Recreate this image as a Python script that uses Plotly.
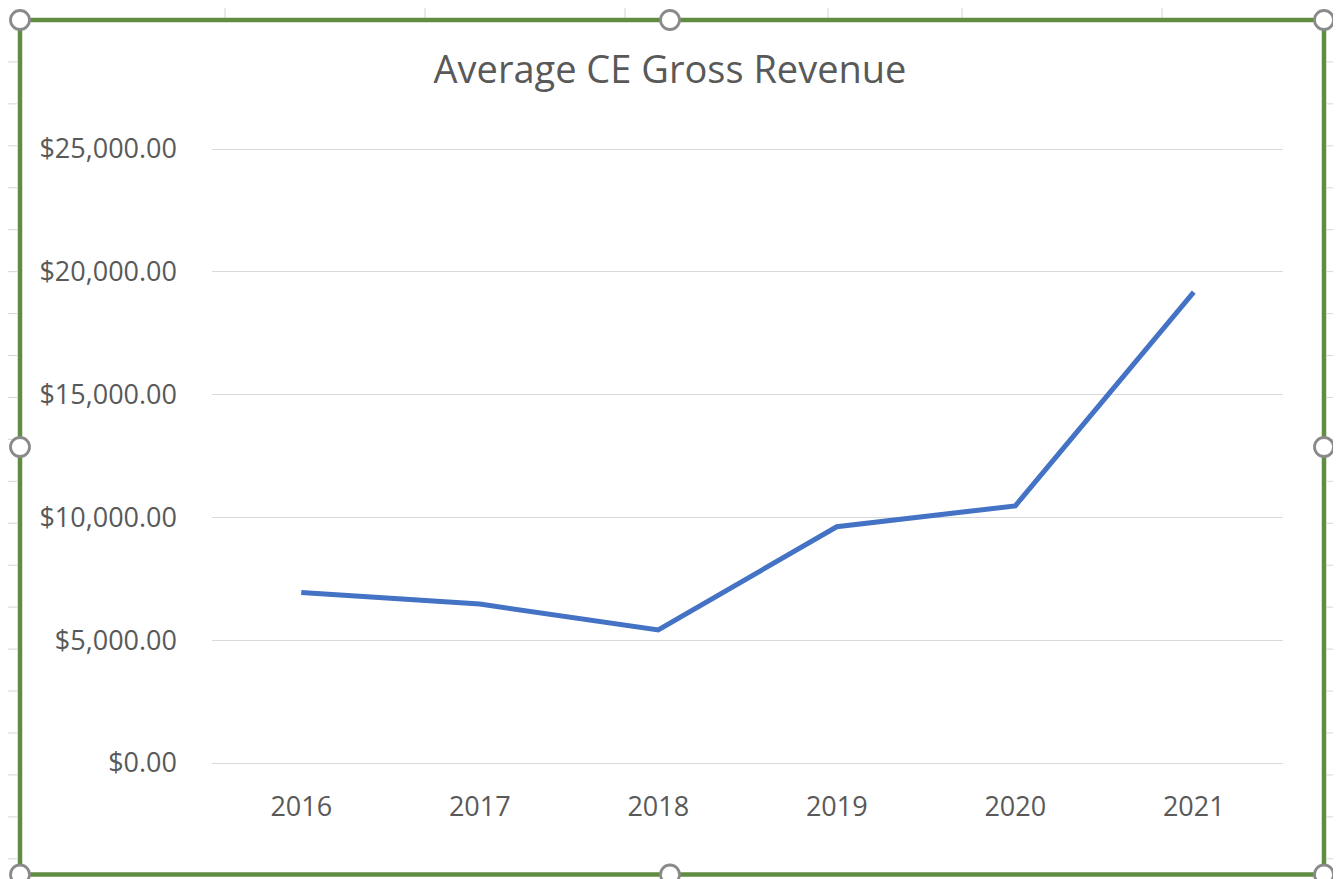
import plotly.graph_objects as go

# ---- data ----
years = ["2016", "2017", "2018", "2019", "2020", "2021"]
revenue = [6940, 6470, 5420, 9620, 10470, 19170]
y_ticks = [0, 5000, 10000, 15000, 20000, 25000]
y_max = 25000
title_text = "Average CE Gross Revenue"

# page has an 8px body margin; size figure so screen coordinates line up
OFF = 8
SW, SH = 1341, 879
W, H = SW - OFF, SH - OFF
PLOT_L, PLOT_R, PLOT_T, PLOT_B = 212, 1283, 149, 763  # screen px of value range
EPS_PX = 2  # extend plot a little so end gridlines are drawn
L = PLOT_L - OFF
T = PLOT_T - OFF - EPS_PX
R = SW - PLOT_R
B = SH - PLOT_B - EPS_PX
PW, PH = W - L - R, H - T - B
eps = EPS_PX * y_max / (PLOT_B - PLOT_T)


def px(xs):
    return (xs - OFF - L) / PW


def py(ys):
    return (H - B - (ys - OFF)) / PH


fig = go.Figure()
fig.add_trace(go.Scatter(
    x=years, y=revenue, mode="lines",
    line=dict(color="#4472c4", width=5),
    hoverinfo="skip", showlegend=False,
))

shapes = []
# spreadsheet cell lines visible outside the chart
for xv in [225, 425, 625, 828, 962, 1162]:
    shapes.append(dict(type="line", xref="paper", yref="paper",
                       x0=px(xv), x1=px(xv), y0=py(OFF), y1=py(18),
                       line=dict(color="#d6d6d6", width=1), layer="below"))
k = 1
while True:
    yv = 20 + 41.94 * k
    if yv > SH:
        break
    for (a, b) in [(OFF, 17), (1327, SW)]:
        shapes.append(dict(type="line", xref="paper", yref="paper",
                           x0=px(a), x1=px(b), y0=py(yv), y1=py(yv),
                           line=dict(color="#d6d6d6", width=1), layer="below"))
    k += 1

# chart border
shapes.append(dict(type="rect", xref="paper", yref="paper",
                   x0=px(20), x1=px(1324), y0=py(20), y1=py(874.5),
                   line=dict(color="#618d42", width=4.5), fillcolor="rgba(0,0,0,0)",
                   layer="above"))
# selection handles
rr = 9.5
for (cx, cy) in [(20, 20), (670, 20), (1324, 20), (20, 447), (1324, 447),
                 (20, 874.5), (670, 874.5), (1324, 874.5)]:
    shapes.append(dict(type="circle", xref="paper", yref="paper",
                       x0=px(cx - rr), x1=px(cx + rr), y0=py(cy - rr), y1=py(cy + rr),
                       line=dict(color="#8a8a8a", width=2.8), fillcolor="white",
                       layer="above"))

fig.update_layout(
    width=W, height=H,
    margin=dict(l=L, r=R, t=T, b=B, pad=0),
    paper_bgcolor="white", plot_bgcolor="white",
    font=dict(family="Open Sans", color="#595959"),
    title=dict(text=title_text, x=(670 - OFF) / W, xanchor="center",
               yref="container", y=1 - (70 - OFF) / H, yanchor="middle",
               font=dict(family="Open Sans", size=38, color="#595959")),
    xaxis=dict(type="category", range=[-0.5, 5.5], showgrid=False,
               showline=False, zeroline=False, ticks="",
               tickfont=dict(size=27, color="#595959"),
               ticklabelstandoff=23, fixedrange=True),
    yaxis=dict(range=[-eps, y_max + eps], tickvals=y_ticks, tickformat="$,.2f",
               showgrid=True, gridcolor="#d9d9d9", gridwidth=1.2,
               zeroline=False, showline=False, ticks="",
               tickfont=dict(size=27, color="#595959"),
               ticklabelstandoff=34, fixedrange=True),
    shapes=shapes,
)

fig.write_html("out.html")
